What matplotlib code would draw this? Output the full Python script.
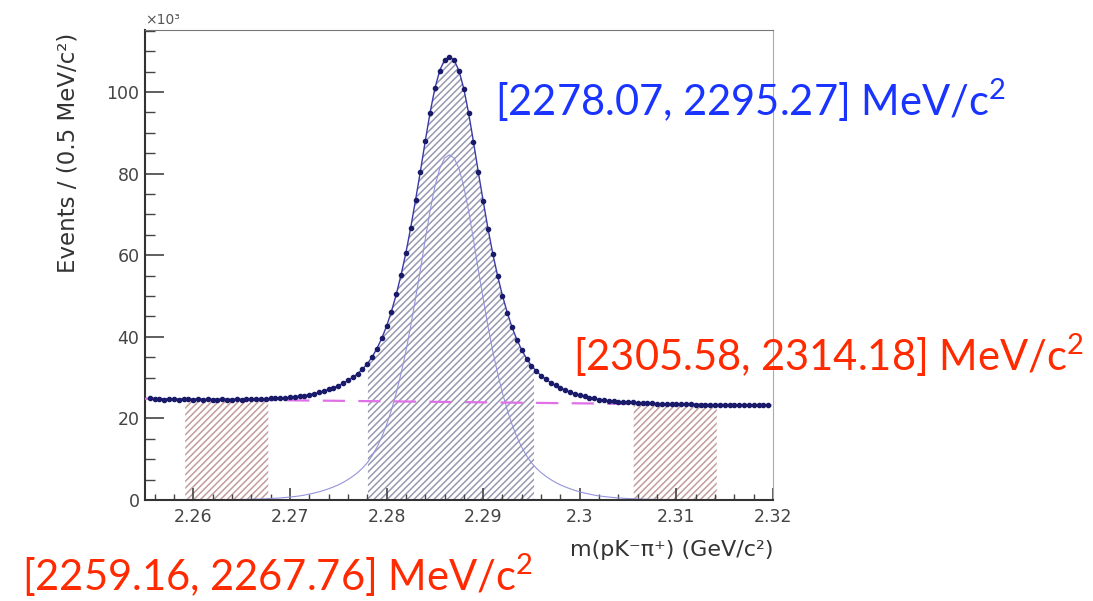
import matplotlib
matplotlib.use('Agg')
import matplotlib.pyplot as plt
from matplotlib.ticker import MultipleLocator, FuncFormatter
import numpy as np

plt.rcParams.update({
    'font.family': 'DejaVu Sans',
    'mathtext.fontset': 'custom',
    'mathtext.rm': 'Lato',
    'mathtext.it': 'Lato',
    'hatch.linewidth': 1.1,
})

# events per 0.5 MeV bin (x10^3), first bin at 2.2555 GeV
events = [
    24.9, 24.7, 24.8, 24.6, 24.8, 24.7, 24.6, 24.8, 24.7, 24.6,
    24.7, 24.5, 24.7, 24.6, 24.5, 24.7, 24.6, 24.6, 24.7, 24.6,
    24.7, 24.8, 24.7, 24.8, 24.8, 24.9, 24.9, 25.0, 25.0, 25.2,
    25.3, 25.4, 25.6, 25.8, 26.1, 26.4, 26.7, 27.1, 27.5, 28.0,
    28.6, 29.3, 30.1, 31.0, 32.0, 33.3, 35.0, 37.1, 39.6, 42.6,
    46.2, 50.4, 55.2, 60.5, 66.7, 73.5, 80.5, 87.9, 94.9, 100.9,
    105.2, 107.8, 108.6, 107.8, 105.2, 100.8, 94.8, 87.8, 80.3, 73.3,
    66.5, 60.3, 54.9, 50.1, 45.9, 42.3, 39.3, 36.7, 34.6, 32.9,
    31.6, 30.5, 29.6, 28.8, 28.1, 27.4, 26.9, 26.5, 26.1, 25.7,
    25.4, 25.1, 24.9, 24.6, 24.5, 24.3, 24.2, 24.1, 24.0, 23.9,
    23.9, 23.8, 23.8, 23.7, 23.7, 23.6, 23.6, 23.6, 23.5, 23.5,
    23.5, 23.5, 23.5, 23.4, 23.4, 23.4, 23.4, 23.4, 23.4, 23.4,
    23.3, 23.3, 23.3, 23.3, 23.3, 23.3, 23.3, 23.2, 23.2,
]

# signal component of the fit at the same masses
signal = [
    0.02, 0.02, 0.02, 0.02, 0.03, 0.03, 0.03, 0.03, 0.04, 0.04,
    0.04, 0.05, 0.05, 0.06, 0.07, 0.08, 0.09, 0.10, 0.12, 0.14,
    0.16, 0.19, 0.22, 0.26, 0.30, 0.36, 0.42, 0.50, 0.60, 0.72,
    0.85, 1.00, 1.20, 1.45, 1.70, 2.00, 2.35, 2.75, 3.20, 3.70,
    4.30, 5.00, 5.80, 6.70, 7.80, 9.10, 10.8, 12.9, 15.4, 18.4,
    22.0, 26.2, 31.0, 36.4, 42.6, 49.4, 56.4, 63.8, 70.8, 76.8,
    81.2, 83.8, 84.6, 83.8, 81.2, 76.8, 70.8, 63.8, 56.4, 49.4,
    42.6, 36.4, 31.0, 26.2, 22.0, 18.4, 15.4, 12.9, 10.8, 9.10,
    7.80, 6.70, 5.80, 5.00, 4.30, 3.70, 3.20, 2.75, 2.35, 2.00,
    1.70, 1.45, 1.20, 1.00, 0.85, 0.72, 0.60, 0.50, 0.42, 0.36,
    0.30, 0.26, 0.22, 0.19, 0.16, 0.14, 0.12, 0.10, 0.09, 0.08,
    0.07, 0.06, 0.05, 0.05, 0.04, 0.04, 0.04, 0.03, 0.03, 0.03,
    0.03, 0.02, 0.02, 0.02, 0.02, 0.02, 0.02, 0.01, 0.01,
]

bkg_mass = [2.255, 2.320]
bkg_level = [24.8, 23.2]

signal_window = [2.27807, 2.29527]
sidebands = [[2.25916, 2.26776], [2.30558, 2.31418]]

labels = ['[2278.07, 2295.27] MeV/c$^{\\mathrm{2}}$',
          '[2305.58, 2314.18] MeV/c$^{\\mathrm{2}}$',
          '[2259.16, 2267.76] MeV/c$^{\\mathrm{2}}$']

mass = 2.2555 + 0.0005 * np.arange(len(events))
events = np.array(events)
signal = np.array(signal)
bkg = np.interp(mass, bkg_mass, bkg_level)
total = signal + bkg

fig = plt.figure(figsize=(10.93, 6.01), dpi=100)
ax = fig.add_axes([145/1093, 101/601, 628/1093, 470/601])

# hatched windows
def hatch_window(lo, hi, color):
    xs = np.linspace(lo, hi, 200)
    ys = np.interp(xs, mass, total)
    ax.fill_between(xs, 0, ys, facecolor='none', edgecolor=color,
                    linewidth=0, hatch='/////', zorder=1)

hatch_window(signal_window[0], signal_window[1], '#9899b0')
for lo, hi in sidebands:
    hatch_window(lo, hi, '#c49c9c')

ax.plot(mass, signal, color='#9494dc', lw=0.8, zorder=2)
ax.plot(bkg_mass, bkg_level, color='#e070e8', lw=1.6, dashes=(10, 6), zorder=3)
ax.plot(mass, total, color='#3a3aa8', lw=1.0, zorder=4)
ax.plot(mass, events, 'o', color='#1a1a6a', ms=3.0, zorder=5)

ax.set_xlim(2.255, 2.32)
ax.set_ylim(0, 115.2)
ax.xaxis.set_major_locator(MultipleLocator(0.01))
ax.xaxis.set_minor_locator(MultipleLocator(0.002))
ax.yaxis.set_major_locator(MultipleLocator(20))
ax.yaxis.set_minor_locator(MultipleLocator(5))
ax.xaxis.set_major_formatter(FuncFormatter(lambda v, p: '%g' % round(v, 3)))
ax.tick_params(axis='both', which='both', direction='in', colors='#444444',
               labelsize=12.5, top=False, right=False)
ax.tick_params(axis='x', which='major', length=9, width=1.2, pad=6)
ax.tick_params(axis='x', which='minor', length=4.5, width=1.0)
ax.tick_params(axis='y', which='major', length=14, width=1.2, pad=4)
ax.tick_params(axis='y', which='minor', length=7, width=1.0)
for s in ['left', 'bottom']:
    ax.spines[s].set_color('#333333')
    ax.spines[s].set_linewidth(1.5)
ax.spines['top'].set_color('#777777')
ax.spines['right'].set_color('#aaaaaa')

fig.text(145/1093, 1 - 20/601, '×10³', fontsize=10, color='#555555',
         ha='left', va='center')
fig.text(68/1093, 1 - 153/601, 'Events / (0.5 MeV/c²)', rotation=90,
         fontsize=16.5, color='#333333', ha='center', va='center')
fig.text(773/1093, 1 - 550/601, 'm(pK⁻π⁺) (GeV/c²)', fontsize=16,
         color='#333333', ha='right', va='center')

fig.text(495/1093, 1 - 100/601, labels[0], fontsize=30, family='Lato',
         color='#1a34ff', ha='left', va='center')
fig.text(573/1093, 1 - 355/601, labels[1], fontsize=30, family='Lato',
         color='#ff2a00', ha='left', va='center')
fig.text(22/1093, 1 - 575/601, labels[2], fontsize=30, family='Lato',
         color='#ff2a00', ha='left', va='center')

fig.savefig('out.png', dpi=100)
